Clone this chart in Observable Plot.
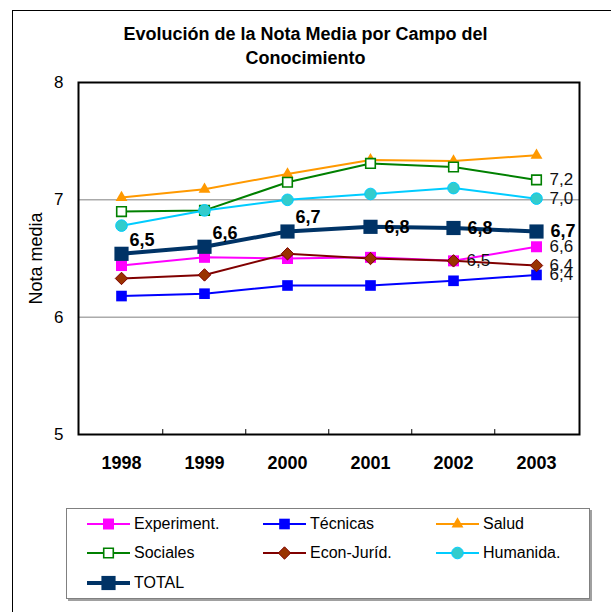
<!DOCTYPE html>
<html><head><meta charset="utf-8">
<script src="https://cdn.jsdelivr.net/npm/d3@7"></script>
<script src="https://cdn.jsdelivr.net/npm/@observablehq/plot@0.6"></script>
<style>
body{margin:0;width:611px;height:612px;overflow:hidden;background:#fff;font-family:Arial,"Liberation Sans",sans-serif;position:relative;}
#frame{position:absolute;left:12px;top:10px;width:700px;height:700px;border:1px solid #000;}
#title{position:absolute;left:0;width:611px;top:22px;text-align:center;font-weight:bold;font-size:18px;line-height:24px;color:#000;}
#chart{position:absolute;left:0;top:0;}
#legend{position:absolute;left:66px;top:508px;width:522px;height:89px;border:1px solid #808080;box-shadow:2px 2px 0 #a0a0a0;background:#fff;}
.item{position:absolute;height:20px;display:flex;align-items:center;font-size:16px;color:#000;white-space:nowrap;}
.item svg{margin-right:4px;}
</style></head>
<body>
<div id="frame"></div>
<div id="title">Evolución de la Nota Media por Campo del<br>Conocimiento</div>
<div id="chart"></div>
<div id="legend"></div>
<script>
const years = ["1998","1999","2000","2001","2002","2003"];
const experiment = [6.44,6.51,6.50,6.51,6.48,6.60];
const tecnicas   = [6.18,6.20,6.27,6.27,6.31,6.36];
const salud      = [7.02,7.09,7.22,7.34,7.33,7.38];
const sociales   = [6.90,6.91,7.15,7.31,7.28,7.17];
const econ       = [6.33,6.36,6.54,6.50,6.48,6.44];
const humanida   = [6.78,6.91,7.00,7.05,7.10,7.01];
const total      = [6.54,6.60,6.73,6.77,6.76,6.73];
const seriesNames = ["Experiment.","Técnicas","Salud","Sociales","Econ-Juríd.","Humanida.","TOTAL"];
const yTicks = [5,6,7,8];

const seriesValues = [experiment, tecnicas, salud, sociales, econ, humanida, total];
const styles = [
  {stroke:"#FF00FF", sw:2, symbol:"square", r:6.2, fill:"#FF00FF", mstroke:"#FF00FF", msw:0},
  {stroke:"#0000FF", sw:2, symbol:"square", r:6.0, fill:"#0000FF", mstroke:"#0000FF", msw:0},
  {stroke:"#FF9900", sw:2, symbol:"triangle", r:4.4, fill:"#FF9900", mstroke:"#FF9900", msw:0},
  {stroke:"#008000", sw:2, symbol:"square", r:5.4, fill:"#FFFFFF", mstroke:"#008000", msw:1.6},
  {stroke:"#800000", sw:2, symbol:"diamond2", r:5.6, fill:"#993300", mstroke:"#800000", msw:1},
  {stroke:"#00CCFF", sw:2, symbol:"circle", r:5.8, fill:"#33CCCC", mstroke:"#00CCFF", msw:1},
  {stroke:"#003366", sw:4, symbol:"square", r:8.0, fill:"#003366", mstroke:"#003366", msw:0}
];

const rows = seriesNames.map((name, i) => years.map((year, j) => ({series:name, year, value:seriesValues[i][j]})));
const fmt = v => v.toFixed(1).replace(".", ",");
const font = 'Arial,"Liberation Sans",sans-serif';

const W = 611, H = 500, mL = 78, mR = 32, mT = 82, mB = 66;
const step = (W - mL - mR) / years.length;

const marks = [
  Plot.ruleY([6,7], {stroke:"#808080", strokeWidth:1}),
  Plot.ruleX(years.slice(1), {y1:5, y2:5.042, dx:-step/2, stroke:"#000", strokeWidth:1}),
  Plot.frame({stroke:"#000", strokeWidth:2}),
  Plot.axisY({ticks:yTicks, tickSize:0, tickPadding:15, fontSize:17, label:"Nota media", labelAnchor:"center", labelArrow:"none", labelOffset:49, tickFormat:d=>String(d)}),
  Plot.axisX({tickSize:0, tickPadding:22, fontSize:18, fontWeight:"bold", label:null})
];
rows.forEach((data, i) => {
  const s = styles[i];
  marks.push(Plot.line(data, {x:"year", y:"value", stroke:s.stroke, strokeWidth:s.sw}));
  marks.push(Plot.dot(data, {x:"year", y:"value", symbol:s.symbol, r:s.r, fill:s.fill, stroke:s.mstroke, strokeWidth:s.msw, fillOpacity:1}));
});
const totalRows = rows[6];
marks.push(Plot.text(totalRows.slice(0,3), {x:"year", y:"value", text:d=>fmt(d.value), dx:8, dy:-14, textAnchor:"start", fontWeight:"bold", fontSize:18, fill:"#000"}));
marks.push(Plot.text(totalRows.slice(3), {x:"year", y:"value", text:d=>fmt(d.value), dx:14, dy:0, textAnchor:"start", fontWeight:"bold", fontSize:18, fill:"#000"}));
// last-point labels for other series
const lastLabels = [rows[3][5], rows[5][5], rows[0][5], rows[4][5], rows[1][5], rows[0][4]];
marks.push(Plot.text(lastLabels, {x:"year", y:"value", text:d=>fmt(d.value), dx:13, dy:0, textAnchor:"start", fontSize:17, fill:"#111"}));

const chart = Plot.plot({
  width:W, height:H, marginTop:mT, marginLeft:mL, marginRight:mR, marginBottom:mB,
  style:{fontFamily:font, background:"transparent", color:"#000", overflow:"visible"},
  x:{type:"point", domain:years, padding:0.5},
  y:{domain:[5,8]},
  marks
});
chart.querySelectorAll("[aria-label='y-axis label'] text, [aria-label='y-axis label']").forEach(el => el.setAttribute("font-size", "18"));
document.getElementById("chart").appendChild(chart);

// legend
const legend = d3.select("#legend");
const symbolMap = {square:d3.symbolSquare, triangle:d3.symbolTriangle, diamond2:d3.symbolDiamond2, circle:d3.symbolCircle};
const colLeft = [20, 196, 369];
const rowCenter = [15, 44, 74];
seriesNames.forEach((name, i) => {
  const s = styles[i];
  const item = legend.append("div").attr("class","item")
    .style("left", colLeft[i % 3] + "px")
    .style("top", (rowCenter[Math.floor(i / 3)] - 10) + "px");
  const svg = item.append("svg").attr("width", 43).attr("height", 20);
  svg.append("line").attr("x1",0).attr("x2",43).attr("y1",10).attr("y2",10)
    .attr("stroke", s.stroke).attr("stroke-width", s.sw);
  svg.append("path").attr("transform","translate(21.5,10)")
    .attr("d", d3.symbol(symbolMap[s.symbol], s.r * s.r * Math.PI)())
    .attr("fill", s.fill).attr("stroke", s.mstroke).attr("stroke-width", s.msw);
  item.append("span").text(name);
});
</script>
</body></html>
